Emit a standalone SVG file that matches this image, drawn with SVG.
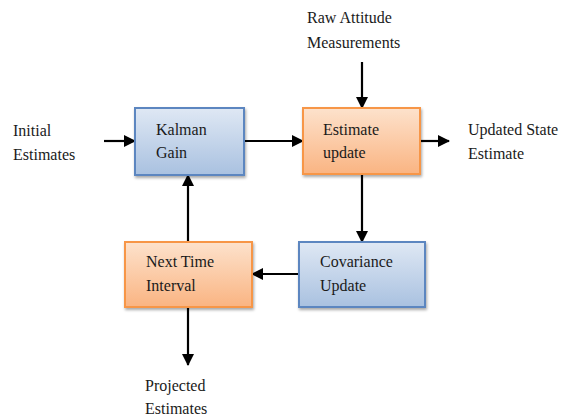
<svg xmlns="http://www.w3.org/2000/svg" width="566" height="417" viewBox="0 0 566 417">
<defs>
<linearGradient id="gBlue" x1="0" y1="0" x2="0" y2="1">
<stop offset="0" stop-color="#dfe8f4"/>
<stop offset="1" stop-color="#a9c1e0"/>
</linearGradient>
<linearGradient id="gOrange" x1="0" y1="0" x2="0" y2="1">
<stop offset="0" stop-color="#fde2cc"/>
<stop offset="1" stop-color="#fab482"/>
</linearGradient>
<filter id="sh" x="-10%" y="-10%" width="130%" height="130%">
<feGaussianBlur in="SourceAlpha" stdDeviation="1.5"/>
<feOffset dx="1" dy="2" result="b"/>
<feComponentTransfer><feFuncA type="linear" slope="0.35"/></feComponentTransfer>
<feMerge><feMergeNode/><feMergeNode in="SourceGraphic"/></feMerge>
</filter>
<marker id="ah" markerWidth="12" markerHeight="12" refX="11" refY="6" orient="auto" markerUnits="userSpaceOnUse">
<path d="M0,0 L12,6 L0,12 Z" fill="#000"/>
</marker>
</defs>
<style>
.t{font-family:'Liberation Serif','DejaVu Serif',serif;font-size:16px;fill:#1a1a1a}
.blue{fill:url(#gBlue);stroke:#5b86c0;stroke-width:2}
.orange{fill:url(#gOrange);stroke:#f79646;stroke-width:2}
.c{stroke:#000;stroke-width:2.2;fill:none;marker-end:url(#ah)}
</style>
<g id="connectors">
<line class="c" x1="104" y1="141" x2="135" y2="141"/>
<line class="c" x1="244" y1="141" x2="303" y2="141"/>
<line class="c" x1="362" y1="62" x2="362" y2="108"/>
<line class="c" x1="420" y1="141" x2="449" y2="141"/>
<line class="c" x1="362" y1="174" x2="362" y2="242"/>
<line class="c" x1="299" y1="274" x2="252" y2="274"/>
<line class="c" x1="188" y1="242" x2="188" y2="175"/>
<line class="c" x1="188" y1="307" x2="188" y2="365"/>
</g>
<g id="kalman-gain">
<rect class="blue" x="135" y="108" width="109" height="67" filter="url(#sh)"/>
<text class="t" font-family="Liberation Serif, serif" x="156" y="135">Kalman</text>
<text class="t" font-family="Liberation Serif, serif" x="156" y="158">Gain</text>
</g>
<g id="estimate-update">
<rect class="orange" x="303" y="108" width="117" height="66" filter="url(#sh)"/>
<text class="t" font-family="Liberation Serif, serif" x="323" y="135">Estimate</text>
<text class="t" font-family="Liberation Serif, serif" x="323" y="158">update</text>
</g>
<g id="next-time-interval">
<rect class="orange" x="125" y="242" width="127" height="65" filter="url(#sh)"/>
<text class="t" font-family="Liberation Serif, serif" x="146" y="267">Next Time</text>
<text class="t" font-family="Liberation Serif, serif" x="146" y="291">Interval</text>
</g>
<g id="covariance-update">
<rect class="blue" x="299" y="242" width="126" height="65" filter="url(#sh)"/>
<text class="t" font-family="Liberation Serif, serif" x="320" y="267">Covariance</text>
<text class="t" font-family="Liberation Serif, serif" x="320" y="291">Update</text>
</g>
<g id="initial-estimates">
<text class="t" font-family="Liberation Serif, serif" x="13" y="136">Initial</text>
<text class="t" font-family="Liberation Serif, serif" x="13" y="160">Estimates</text>
</g>
<g id="raw-attitude">
<text class="t" font-family="Liberation Serif, serif" x="307" y="23">Raw Attitude</text>
<text class="t" font-family="Liberation Serif, serif" x="307" y="48">Measurements</text>
</g>
<g id="updated-state">
<text class="t" font-family="Liberation Serif, serif" x="468" y="135">Updated State</text>
<text class="t" font-family="Liberation Serif, serif" x="468" y="159">Estimate</text>
</g>
<g id="projected-estimates">
<text class="t" font-family="Liberation Serif, serif" x="145" y="391">Projected</text>
<text class="t" font-family="Liberation Serif, serif" x="145" y="414">Estimates</text>
</g>
</svg>
